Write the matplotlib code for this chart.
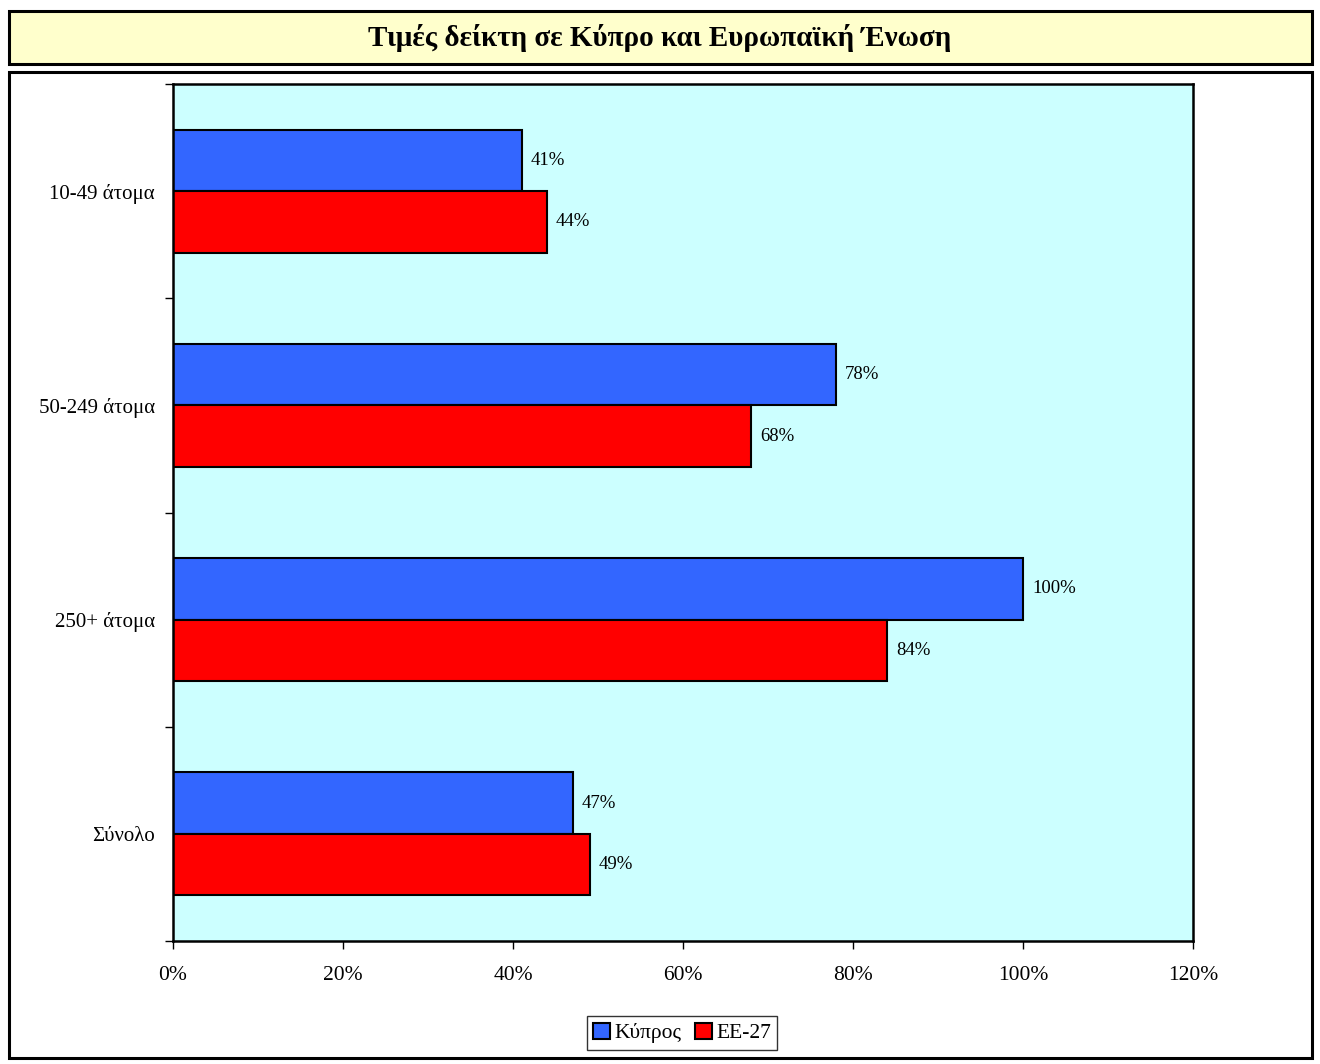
import numpy as np
import matplotlib.pyplot as plt
from matplotlib.patches import Rectangle
from matplotlib.ticker import PercentFormatter

plt.rcParams['font.family'] = ['Liberation Serif', 'DejaVu Serif']

categories = ['10-49 άτομα', '50-249 άτομα', '250+ άτομα', 'Σύνολο']
cyprus = [41, 78, 100, 47]
eu27 = [44, 68, 84, 49]
series_names = ['Κύπρος', 'ΕΕ-27']
title = 'Τιμές δείκτη σε Κύπρο και Ευρωπαϊκή Ένωση'

fig = plt.figure(figsize=(13.2, 10.64), dpi=100)

# title box and chart box (behind the axes)
fig.patches.append(Rectangle((9 / 1320, 1 - 64 / 1064), 1303 / 1320, 53 / 1064,
                             transform=fig.transFigure, facecolor='#FFFFCC',
                             edgecolor='black', lw=2.2, zorder=-5))
fig.patches.append(Rectangle((9 / 1320, 1 - 1058 / 1064), 1303 / 1320, 986 / 1064,
                             transform=fig.transFigure, facecolor='white',
                             edgecolor='black', lw=2.2, zorder=-5))
fig.text(0.5, 1 - 38 / 1064, title, ha='center', va='center',
         fontsize=21, fontweight='bold')

ax = fig.add_axes([173 / 1320, 1 - 941 / 1064, 1020 / 1320, 857 / 1064])
ax.set_facecolor('#CCFFFF')

y = np.arange(len(categories))
h = 0.287
ax.barh(y - h / 2, cyprus, height=h, color='#3366FF', edgecolor='black', lw=1.5,
        label=series_names[0])
ax.barh(y + h / 2, eu27, height=h, color='#FF0000', edgecolor='black', lw=1.5,
        label=series_names[1])

for i in range(len(categories)):
    ax.annotate(f'{cyprus[i]}%', (cyprus[i], y[i] - h / 2), xytext=(6.5, 0),
                textcoords='offset points', va='center', fontsize=13.5)
    ax.annotate(f'{eu27[i]}%', (eu27[i], y[i] + h / 2), xytext=(6.5, 0),
                textcoords='offset points', va='center', fontsize=13.5)

ax.set_xlim(0, 120)
ax.set_ylim(len(categories) - 0.5, -0.5)
ax.set_xticks(np.arange(0, 121, 20))
ax.xaxis.set_major_formatter(PercentFormatter(decimals=0))
ax.set_yticks(np.arange(-0.5, len(categories), 1))
ax.set_yticklabels([])
ax.set_yticks(y, minor=True)
ax.set_yticklabels(categories, minor=True)
ax.tick_params(axis='y', which='minor', length=0, pad=13, labelsize=15)
ax.tick_params(axis='y', which='major', length=6, width=1, direction='out')
ax.tick_params(axis='x', length=6, width=1, direction='out', pad=12, labelsize=15.5)
for s in ax.spines.values():
    s.set_linewidth(1.8)

leg = fig.legend(loc='center', bbox_to_anchor=(682 / 1320, 1 - 1033 / 1064),
                 ncol=2, fontsize=15.5, frameon=True, fancybox=False,
                 edgecolor='black', handlelength=0.8, handleheight=0.8,
                 handletextpad=0.2, columnspacing=0.6, borderpad=0.3)
leg.get_frame().set_linewidth(1)

fig.savefig('out.png', dpi=100)
